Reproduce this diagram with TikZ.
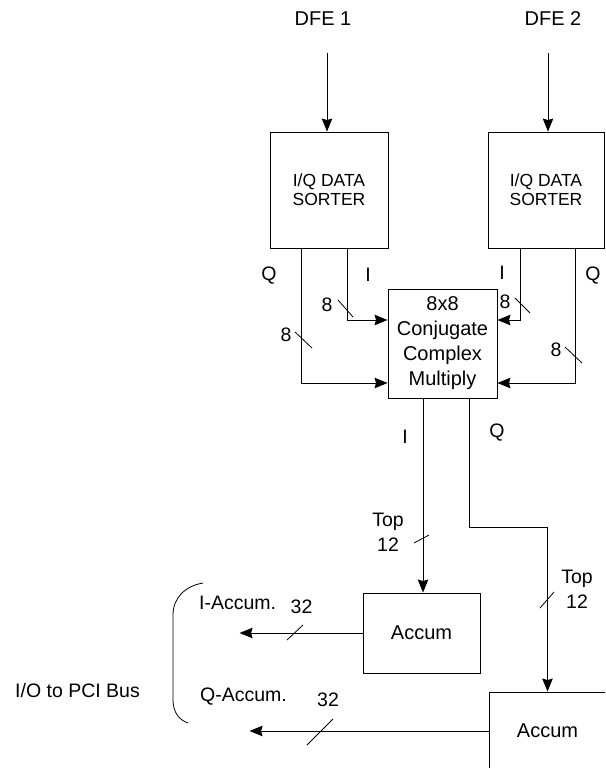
\documentclass[tikz,border=0pt]{standalone}
\usepackage{fontspec}
\setmainfont{Liberation Sans}
\usetikzlibrary{arrows.meta,calc}
\begin{document}
\begin{tikzpicture}[x=1pt,y=-1pt,
  box/.style={draw, line width=0.9pt, inner sep=0pt, align=center},
  lbl/.style={font=\fontsize{19.5}{25}\selectfont, inner sep=0pt, align=center},
  arr/.style={line width=0.9pt, -{Stealth[length=13pt,width=10.5pt,inset=1.5pt]}},
  wire/.style={line width=0.9pt},
  tick/.style={line width=0.8pt}]
\useasboundingbox (0,0) rectangle (605,768);
\clip (0,0) rectangle (605,768);

% blocks
\node[box, minimum width=118pt, minimum height=116pt, font=\fontsize{17.5}{19}\selectfont] (sorter1) at (329,190) {I/Q DATA\\SORTER};
\node[box, minimum width=116pt, minimum height=116pt, font=\fontsize{17.5}{19}\selectfont] (sorter2) at (546,190) {I/Q DATA\\SORTER};
\node[box, minimum width=109pt, minimum height=109pt, font=\fontsize{20}{25}\selectfont] (mult) at (442.5,343.5) {8x8\\Conjugate\\Complex\\Multiply};
\node[box, minimum width=117pt, minimum height=80pt, font=\fontsize{20}{25}\selectfont] (acc1) at (421.5,633) {Accum};
\node[box, minimum width=117pt, minimum height=78pt, font=\fontsize{20}{25}\selectfont] (acc2) at (547.5,731) {Accum};

% inputs
\node[lbl, font=\fontsize{20}{24}\selectfont] (dfe1) at (323,19) {DFE 1};
\node[lbl, font=\fontsize{20}{24}\selectfont] (dfe2) at (553,19) {DFE 2};
\coordinate (d1) at (327,53);
\coordinate (d2) at (548,53);
\draw[arr] (d1) -- (d1 |- sorter1.north);
\draw[arr] (d2) -- (d2 |- sorter2.north);

% sorter -> multiplier
\draw[arr] ([xshift=-28pt]sorter1.south) |- ([yshift=-39.5pt]mult.west);
\draw[arr] ([xshift=18pt]sorter1.south) |- ([yshift=23.5pt]mult.west);
\draw[arr] ([xshift=-26pt]sorter2.south) |- ([yshift=23.5pt]mult.east);
\draw[arr] ([xshift=29pt]sorter2.south) |- ([yshift=-39.5pt]mult.east);

\node[lbl] (lq) at (269,276) {Q};
\node[lbl] (li) at (368,275) {I};
\node[lbl] (ri) at (502,273) {I};
\node[lbl] (rq) at (593,276) {Q};

\node[lbl] (n8a) at (327,305) {8};
\node[lbl] (n8b) at (286,335) {8};
\node[lbl] (n8c) at (505,302) {8};
\node[lbl] (n8d) at (556,350) {8};
\draw[tick] (338,300) -- (353,317);
\draw[tick] (295,332) -- (312,348);
\draw[tick] (515,298) -- (530,313);
\draw[tick] (565,347) -- (582,363);

% multiplier -> accumulators
\coordinate (io1) at ([xshift=-19.5pt]mult.south);
\coordinate (qo1) at ([xshift=26.5pt]mult.south);
\draw[arr] (io1) -- (io1 |- acc1.north);
\draw[arr] (qo1) -- ++(0,129) -| (acc2.north);

\node[lbl] (oi) at (405,437) {I};
\node[lbl] (oq) at (497,433) {Q};

\node[lbl] (top1) at (388,532) {Top\\12};
\node[lbl] (top2) at (577,589) {Top\\12};
\draw[tick] (414,543) -- (429,535);
\draw[tick] (540,608) -- (554,592);

% outputs
\draw[arr] (acc1.west) -- ++(-123,0);
\draw[arr] (acc2.west) -- ++(-239,0);
\draw[tick] (287,640) -- (303,625);
\draw[tick] (307,745) -- (333,719);

\node[lbl, anchor=west] (iacc) at (199,603) {I-Accum.};
\node[lbl] (n32a) at (301.5,607) {32};
\node[lbl, anchor=west] (qacc) at (200,697) {Q-Accum.};
\node[lbl] (n32b) at (328,700) {32};

% bracket and bus label
\draw[tick] (203,583) .. controls (185,586) and (173,598) .. (173,615) -- (173,700) .. controls (173,712) and (179,720) .. (188,723);
\node[lbl, anchor=west] (io) at (15,691) {I/O to PCI Bus};
\end{tikzpicture}
\end{document}
